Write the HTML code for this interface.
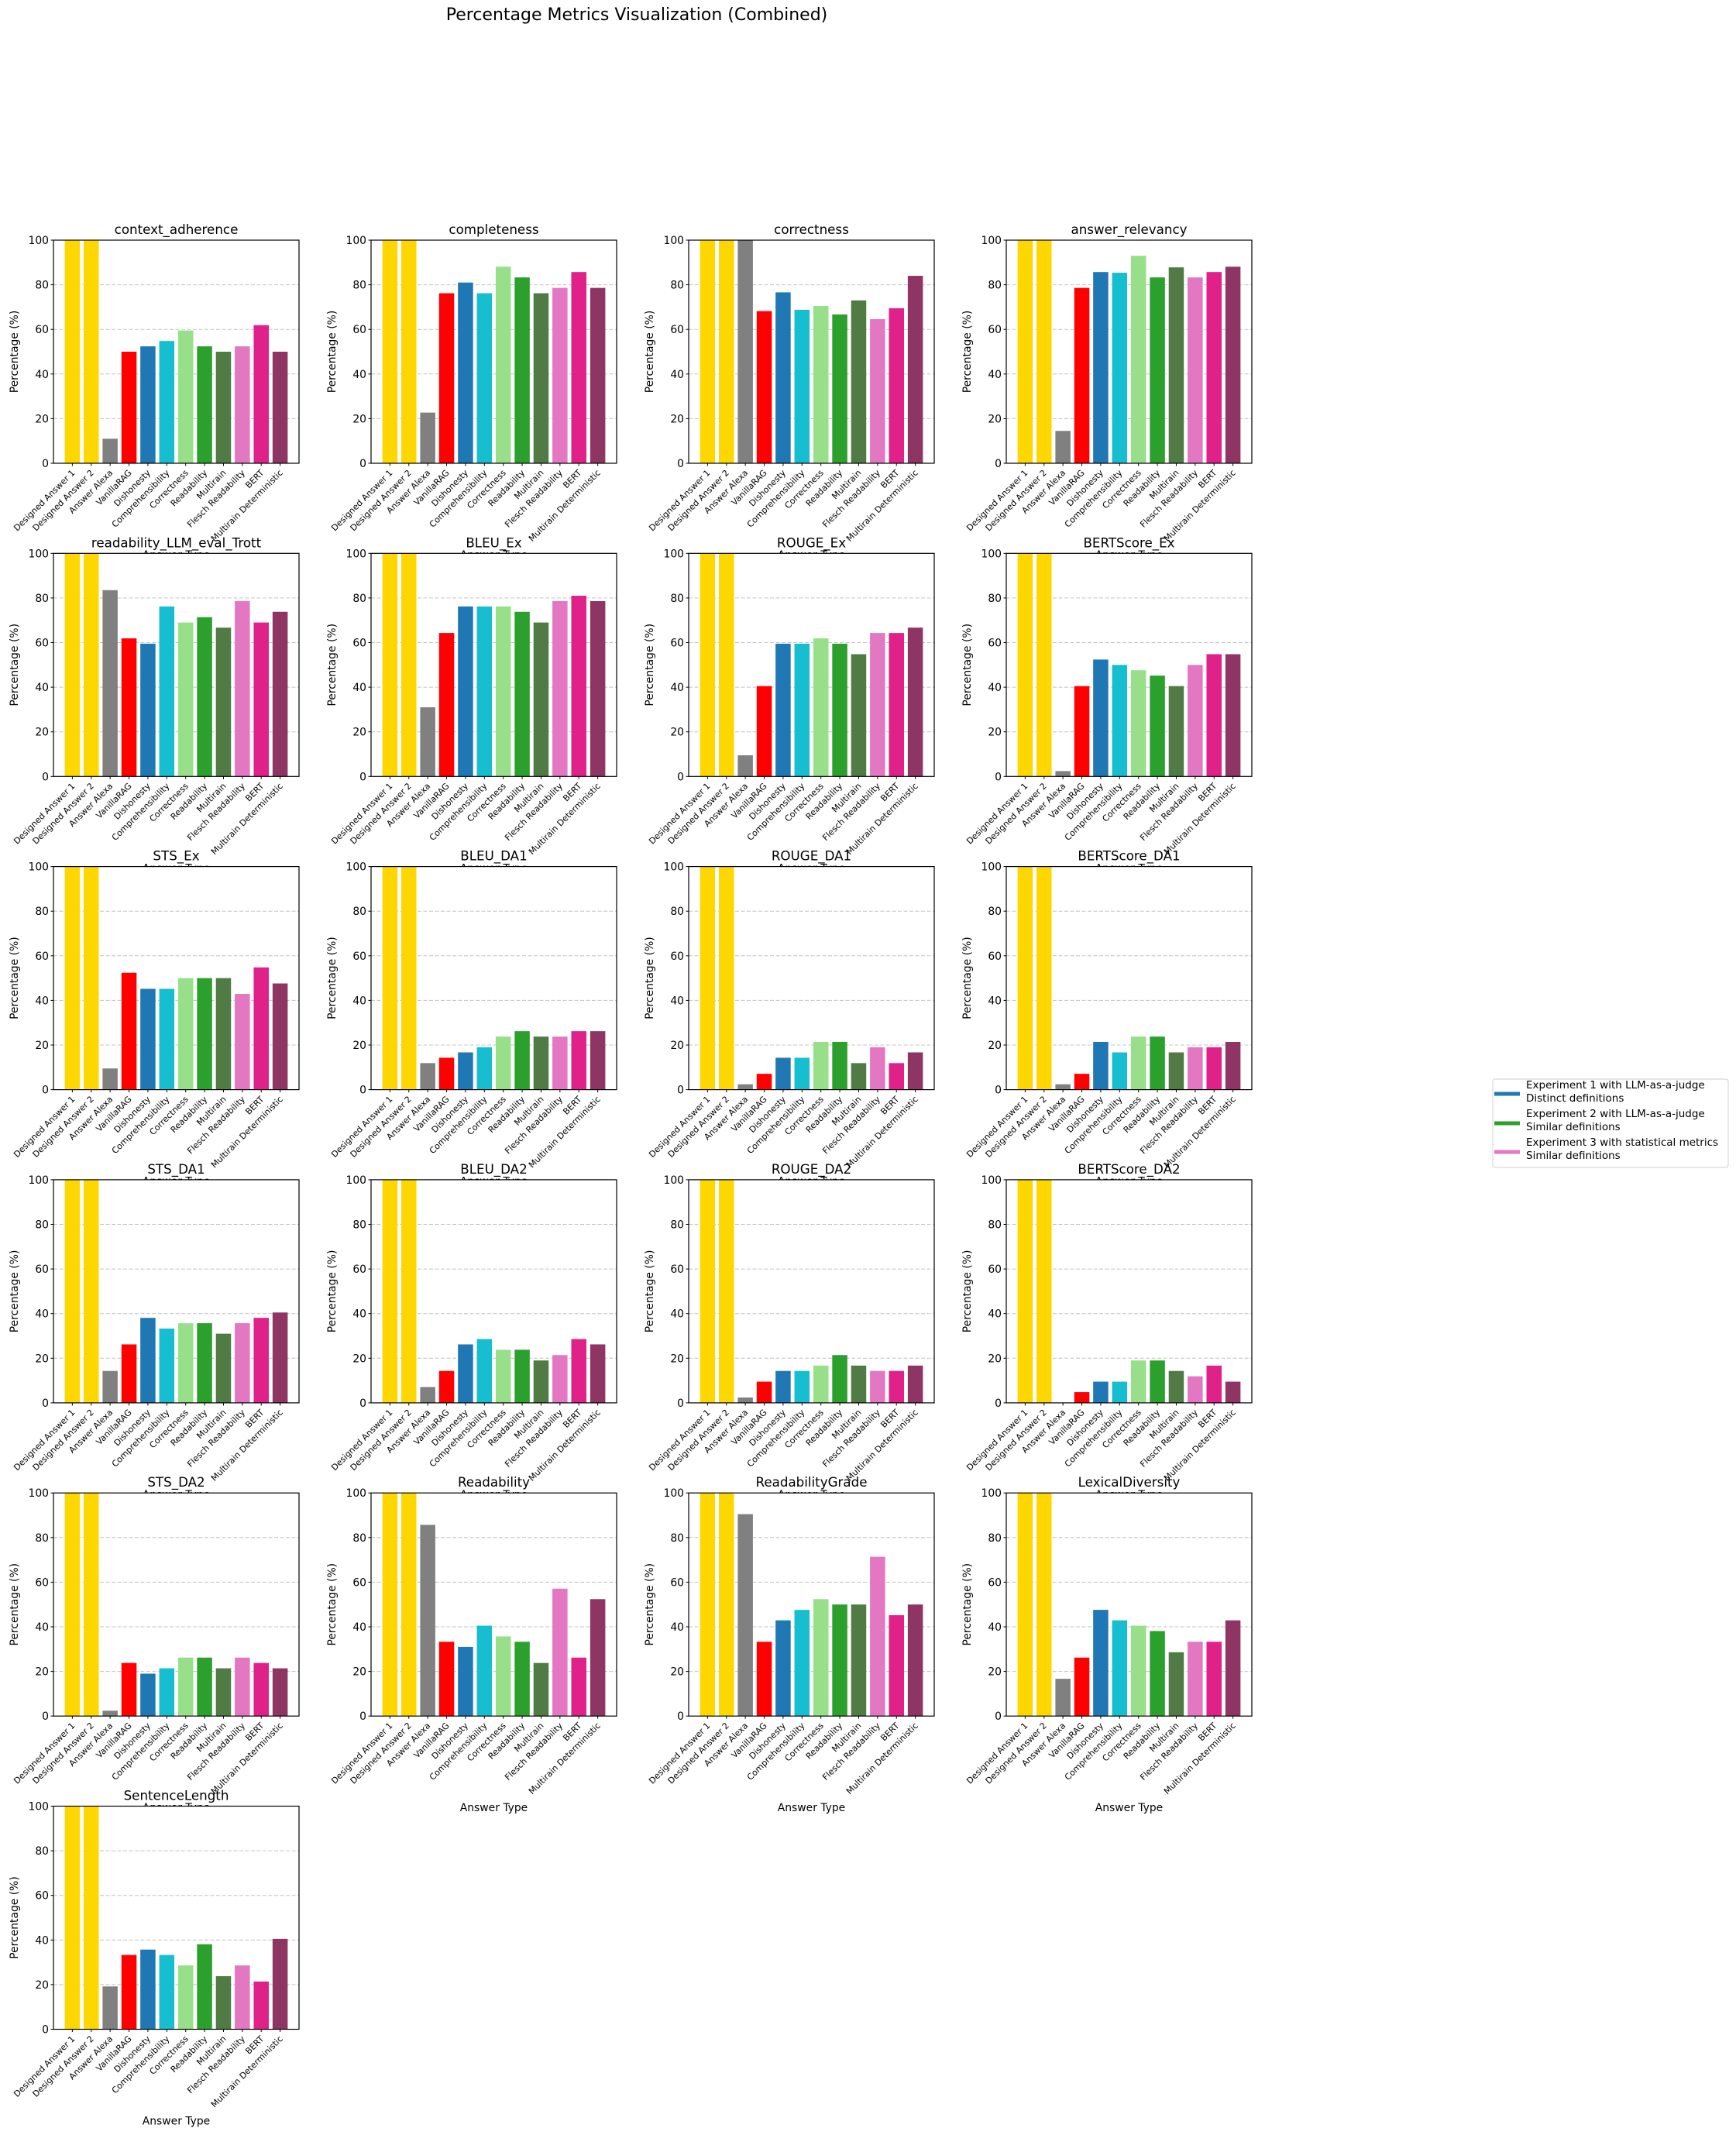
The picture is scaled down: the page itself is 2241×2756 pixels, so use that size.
<!DOCTYPE html>
<html><head><meta charset="utf-8"><style>
html,body{margin:0;padding:0;background:#fff;}
svg{display:block;font-family:"DejaVu Sans","Liberation Sans",sans-serif;}
</style></head><body>
<svg id="chart" width="2241" height="2756" viewBox="0 0 2241 2756" xmlns="http://www.w3.org/2000/svg">
<rect width="2241" height="2756" fill="#fff"/>
<text x="822" y="26" font-size="22" text-anchor="middle">Percentage Metrics Visualization (Combined)</text>
<g id="plots"></g>
<g>
<rect x="1927" y="1393" width="304" height="114" rx="3" fill="#fff" stroke="#d0d0d0" stroke-width="1"/>
<g>
<line x1="1929" y1="1412" x2="1962" y2="1412" stroke="#1f77b4" stroke-width="5"/>
<text x="1970" y="1405" font-size="13.5">Experiment 1 with LLM-as-a-judge</text>
<text x="1970" y="1422" font-size="13.5">Distinct definitions</text></g>
<g>
<line x1="1929" y1="1450" x2="1962" y2="1450" stroke="#2ca02c" stroke-width="5"/>
<text x="1970" y="1442" font-size="13.5">Experiment 2 with LLM-as-a-judge</text>
<text x="1970" y="1459" font-size="13.5">Similar definitions</text></g>
<g>
<line x1="1929" y1="1487" x2="1962" y2="1487" stroke="#e377c2" stroke-width="5"/>
<text x="1970" y="1479" font-size="13.5">Experiment 3 with statistical metrics</text>
<text x="1970" y="1496" font-size="13.5">Similar definitions</text></g>
</g>
</svg>
<script>
const categories = ["Designed Answer 1","Designed Answer 2","Answer Alexa","VanillaRAG","Dishonesty","Comprehensibility","Correctness","Readability","Multirain","Flesch Readability","BERT","Multirain Deterministic"];
const metricNames = ["context_adherence","completeness","correctness","answer_relevancy","readability_LLM_eval_Trott","BLEU_Ex","ROUGE_Ex","BERTScore_Ex","STS_Ex","BLEU_DA1","ROUGE_DA1","BERTScore_DA1","STS_DA1","BLEU_DA2","ROUGE_DA2","BERTScore_DA2","STS_DA2","Readability","ReadabilityGrade","LexicalDiversity","SentenceLength"];
const contextAdherence = [100,100,11,50,52.4,54.8,59.5,52.4,50,52.4,61.9,50];
const completeness = [100,100,22.7,76.2,81,76.2,88.1,83.3,76.2,78.6,85.7,78.6];
const correctness = [100,100,100,68.2,76.6,68.8,70.5,66.7,73,64.6,69.5,84];
const answerRelevancy = [100,100,14.5,78.6,85.7,85.4,93,83.3,87.8,83.3,85.7,88.1];
const readabilityLLM = [100,100,83.5,61.9,59.5,76.2,69,71.4,66.7,78.6,69,73.8];
const bleuEx = [100,100,31,64.3,76.2,76.2,76.2,73.8,69,78.6,81,78.6];
const rougeEx = [100,100,9.5,40.5,59.5,59.5,61.9,59.5,54.8,64.3,64.3,66.7];
const bertEx = [100,100,2.4,40.5,52.4,50,47.6,45.2,40.5,50,54.8,54.8];
const stsEx = [100,100,9.5,52.4,45.2,45.2,50,50,50,42.9,54.8,47.6];
const bleuDA1 = [100,100,11.9,14.3,16.7,19,23.8,26.2,23.8,23.8,26.2,26.2];
const rougeDA1 = [100,100,2.4,7.1,14.3,14.3,21.4,21.4,11.9,19,11.9,16.7];
const bertDA1 = [100,100,2.4,7.1,21.4,16.7,23.8,23.8,16.7,19,19,21.4];
const stsDA1 = [100,100,14.3,26.2,38.1,33.3,35.7,35.7,31,35.7,38.1,40.5];
const bleuDA2 = [100,100,7.1,14.3,26.2,28.6,23.8,23.8,19,21.4,28.6,26.2];
const rougeDA2 = [100,100,2.4,9.5,14.3,14.3,16.7,21.4,16.7,14.3,14.3,16.7];
const bertDA2 = [100,100,0,4.8,9.5,9.5,19,19,14.3,11.9,16.7,9.5];
const stsDA2 = [100,100,2.4,23.8,19,21.4,26.2,26.2,21.4,26.2,23.8,21.4];
const readability = [100,100,85.7,33.3,31,40.5,35.7,33.3,23.8,57.1,26.2,52.4];
const readabilityGrade = [100,100,90.5,33.3,42.9,47.6,52.4,50,50,71.4,45.2,50];
const lexicalDiversity = [100,100,16.7,26.2,47.6,42.9,40.5,38.1,28.6,33.3,33.3,42.9];
const sentenceLength = [100,100,19.2,33.3,35.7,33.3,28.6,38.1,23.8,28.6,21.4,40.5];
const yTicks = [0,20,40,60,80,100];

const series = [contextAdherence,completeness,correctness,answerRelevancy,readabilityLLM,bleuEx,rougeEx,bertEx,stsEx,bleuDA1,rougeDA1,bertDA1,stsDA1,bleuDA2,rougeDA2,bertDA2,stsDA2,readability,readabilityGrade,lexicalDiversity,sentenceLength];
const colors = ["#FFD700","#FFD700","#808080","#FF0000","#1f77b4","#17becf","#98df8a","#2ca02c","#507b45","#e377c2","#e0218a","#8e3563"];
const NS="http://www.w3.org/2000/svg";
const root=document.getElementById('plots');
function mk(tag,attrs,parent){const e=document.createElementNS(NS,tag);for(const k in attrs)e.setAttribute(k,attrs[k]);parent.appendChild(e);return e;}
const AX_W=317, AX_H=288, COL0=69, COLDX=410, ROW0=310, ROWDY=404.3;
series.forEach((vals,idx)=>{
  const col=idx%4,row=Math.floor(idx/4);
  const L=COL0+col*COLDX, T=ROW0+row*ROWDY, B=T+AX_H, R=L+AX_W;
  const xs=i=>L+(i+1)/13*AX_W;
  const ys=v=>B-v/100*AX_H;
  const slug=metricNames[idx].toLowerCase().replace(/_/g,'-');
  const g=mk('g',{},root);
  
  
  mk('rect',{x:L,y:T,width:AX_W,height:AX_H,fill:'#fff'},g);
  yTicks.forEach(t=>{
    if(t>0&&t<100){const gl=mk('line',{x1:L,x2:R,y1:ys(t),y2:ys(t),stroke:'#c4c4c4','stroke-width':1,'stroke-dasharray':'5,2.5'},g);
      
      }
    mk('line',{x1:L-3.5,x2:L,y1:ys(t),y2:ys(t),stroke:'#000','stroke-width':1},g);
    const tl=mk('text',{x:L-6,y:ys(t)+5,'font-size':13.9,'text-anchor':'end'},g);
    tl.textContent=t;
    
    
  });
  vals.forEach((v,i)=>{
    const bw=0.8/13*AX_W;
    const b=mk('rect',{x:xs(i)-bw/2,y:ys(v),width:bw,height:B-ys(v),fill:colors[i]},g);
    
    
    mk('line',{x1:xs(i),x2:xs(i),y1:B,y2:B+3.5,stroke:'#000','stroke-width':1},g);
    const xl=mk('text',{x:0,y:0,'font-size':11,'text-anchor':'end',transform:'translate('+(xs(i)+4)+','+(B+13)+') rotate(-45)'},g);
    xl.textContent=categories[i];
    
    
  });
  mk('rect',{x:L,y:T,width:AX_W,height:AX_H,fill:'none',stroke:'#000','stroke-width':1.2},g);
  const ti=mk('text',{x:L+AX_W/2,y:T-8,'font-size':16.7,'text-anchor':'middle'},g);
  ti.textContent=metricNames[idx];
  
  
  const yl=mk('text',{x:0,y:0,'font-size':13.9,'text-anchor':'middle',transform:'translate('+(L-46)+','+(T+AX_H/2)+') rotate(-90)'},g);
  yl.textContent='Percentage (%)';
  
  
  const xt=mk('text',{x:L+AX_W/2,y:B+123,'font-size':13.9,'text-anchor':'middle'},g);
  xt.textContent='Answer Type';
  
  
});
</script>
</body></html>
